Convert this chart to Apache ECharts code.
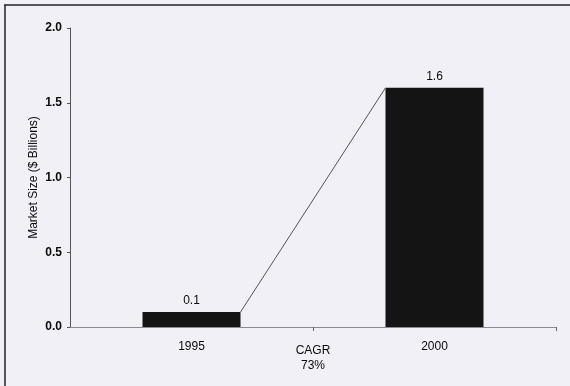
<!DOCTYPE html>
<html>
<head>
<meta charset="utf-8">
<script src="https://cdn.jsdelivr.net/npm/echarts@6/dist/echarts.min.js"></script>
<style>
    html, body { margin: 0; padding: 0; background: #f0f0f6; }
    #chart { width: 570px; height: 386px; }
</style>
</head>
<body>
<div id="chart"></div>
<script>
    // 数据
    const years = ['1995', '2000']
    const marketSize = [0.1, 1.6]
    const cagrLabel = 'CAGR\n73%'
    const yTicks = [0, 0.5, 1.0, 1.5, 2.0]

    // x轴: 空位 + 1995 + CAGR + 2000 + 空位
    const categories = ['', years[0], cagrLabel, years[1], '']
    const barData = [null, marketSize[0], null, marketSize[1], null]
    const BAR_WIDTH = 98

    const chart = echarts.init(document.getElementById('chart'))
    const options = {
        backgroundColor: '#f0f0f6',
        animation: false,
        textStyle: { fontFamily: 'Liberation Sans, Arial, sans-serif' },
        grid: { left: 70, right: 14, top: 28, bottom: 59 },
        graphic: [
            { type: 'line', shape: { x1: 4, y1: 5, x2: 570, y2: 5 }, style: { stroke: '#222', lineWidth: 1.5 } },
            { type: 'line', shape: { x1: 5, y1: 5, x2: 5, y2: 386 }, style: { stroke: '#222', lineWidth: 1.5 } }
        ],
        xAxis: {
            type: 'category',
            data: categories,
            boundaryGap: false,
            axisLine: { lineStyle: { color: '#8a8a90', width: 1 } },
            axisTick: {
                length: 4,
                interval: (i) => i === 2 || i === 4,
                lineStyle: { color: '#666' }
            },
            axisLabel: {
                interval: 0,
                margin: 14,
                color: '#0a0a0a',
                fontSize: 12,
                formatter: (v) => v === cagrLabel ? '{c|' + v + '}' : v,
                rich: { c: { fontSize: 12, color: '#0a0a0a', lineHeight: 15, padding: [5, 0, 0, 0], align: 'center' } }
            }
        },
        yAxis: {
            type: 'value',
            min: yTicks[0],
            max: yTicks[yTicks.length - 1],
            interval: 0.5,
            name: 'Market Size ($ Billions)',
            nameLocation: 'middle',
            nameGap: 30,
            nameMoveOverlap: false,
            nameTextStyle: { color: '#0a0a0a', fontSize: 12 },
            splitLine: { show: false },
            axisLine: { show: true, lineStyle: { color: '#555', width: 1 } },
            axisTick: { show: true, length: 3, lineStyle: { color: '#555' } },
            axisLabel: {
                color: '#0a0a0a',
                fontSize: 12,
                fontWeight: 'bold',
                margin: 8,
                formatter: (v) => v.toFixed(1)
            }
        },
        series: [{
            type: 'bar',
            data: barData,
            barWidth: BAR_WIDTH,
            itemStyle: { color: '#141414' },
            label: { show: true, position: 'top', distance: 5, color: '#0a0a0a', fontSize: 12, formatter: (p) => p.value.toFixed(1) },
            z: 3
        }, {
            // 连接两根柱子顶角的斜线
            type: 'custom',
            data: [[years[0], marketSize[0], years[1], marketSize[1]]],
            encode: { x: [0, 2], y: [1, 3] },
            renderItem (params, api) {
                const p1 = api.coord([api.value(0), api.value(1)])
                const p2 = api.coord([api.value(2), api.value(3)])
                return {
                    type: 'line',
                    shape: { x1: p1[0] + BAR_WIDTH / 2, y1: p1[1], x2: p2[0] - BAR_WIDTH / 2, y2: p2[1] },
                    style: { stroke: '#555', lineWidth: 1 }
                }
            },
            z: 4
        }]
    }
    chart.setOption(options)
</script>
</body>
</html>
